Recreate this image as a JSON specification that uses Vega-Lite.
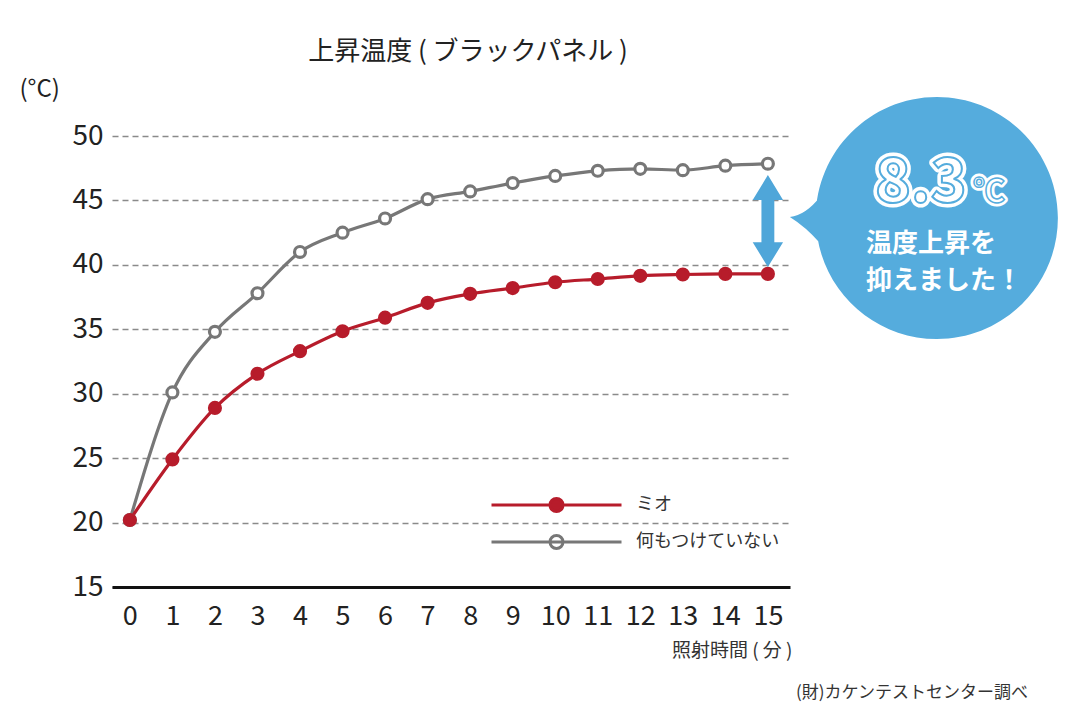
{
  "$schema": "https://vega.github.io/schema/vega-lite/v6.json",
  "width": 678,
  "height": 451,
  "autosize": {"type": "none"},
  "padding": {"left": 112, "top": 136, "right": 290, "bottom": 133},
  "background": "white",
  "config": {
    "font": "Noto Sans CJK JP",
    "view": {"stroke": null},
    "title": {"font": "Noto Sans CJK JP", "fontWeight": "normal", "color": "#222222"}
  },
  "title": {
    "text": "上昇温度 ( ブラックパネル )",
    "fontSize": 26,
    "anchor": "middle",
    "dx": 17,
    "offset": 12
  },
  "datasets": {
    "temps": [
      {"series": "何もつけていない", "time": 0, "temp": 20.2},
      {"series": "何もつけていない", "time": 1, "temp": 30.1},
      {"series": "何もつけていない", "time": 2, "temp": 34.8},
      {"series": "何もつけていない", "time": 3, "temp": 37.8},
      {"series": "何もつけていない", "time": 4, "temp": 41.0},
      {"series": "何もつけていない", "time": 5, "temp": 42.5},
      {"series": "何もつけていない", "time": 6, "temp": 43.6},
      {"series": "何もつけていない", "time": 7, "temp": 45.1},
      {"series": "何もつけていない", "time": 8, "temp": 45.7},
      {"series": "何もつけていない", "time": 9, "temp": 46.35},
      {"series": "何もつけていない", "time": 10, "temp": 46.9},
      {"series": "何もつけていない", "time": 11, "temp": 47.3},
      {"series": "何もつけていない", "time": 12, "temp": 47.45},
      {"series": "何もつけていない", "time": 13, "temp": 47.35},
      {"series": "何もつけていない", "time": 14, "temp": 47.7},
      {"series": "何もつけていない", "time": 15, "temp": 47.85},
      {"series": "ミオ", "time": 0, "temp": 20.2},
      {"series": "ミオ", "time": 1, "temp": 24.9},
      {"series": "ミオ", "time": 2, "temp": 28.9},
      {"series": "ミオ", "time": 3, "temp": 31.55},
      {"series": "ミオ", "time": 4, "temp": 33.3},
      {"series": "ミオ", "time": 5, "temp": 34.85},
      {"series": "ミオ", "time": 6, "temp": 35.9},
      {"series": "ミオ", "time": 7, "temp": 37.05},
      {"series": "ミオ", "time": 8, "temp": 37.75},
      {"series": "ミオ", "time": 9, "temp": 38.2},
      {"series": "ミオ", "time": 10, "temp": 38.65},
      {"series": "ミオ", "time": 11, "temp": 38.9},
      {"series": "ミオ", "time": 12, "temp": 39.15},
      {"series": "ミオ", "time": 13, "temp": 39.25},
      {"series": "ミオ", "time": 14, "temp": 39.3},
      {"series": "ミオ", "time": 15, "temp": 39.3}
    ],
    "note": [{"time": 15, "temp": 43.4}]
  },
  "encoding": {
    "x": {
      "field": "time",
      "type": "quantitative",
      "scale": {"domain": [-0.42, 15.52], "nice": false, "zero": false},
      "axis": {
        "values": [0,1,2,3,4,5,6,7,8,9,10,11,12,13,14,15],
        "grid": false,
        "ticks": false,
        "domainColor": "#111111",
        "domainWidth": 3,
        "labelFontSize": 27,
        "labelColor": "#222222",
        "labelPadding": 16,
        "labelFlush": false,
        "labelOverlap": false,
        "title": "照射時間 ( 分 )",
        "titleFontSize": 19,
        "titleFontWeight": "normal",
        "titleColor": "#333333",
        "titleAlign": "right",
        "titleAnchor": null,
        "titleX": 680,
        "titleY": 63,
        "titleBaseline": "middle"
      }
    },
    "y": {
      "field": "temp",
      "type": "quantitative",
      "scale": {"domain": [15, 50], "nice": false, "zero": false},
      "axis": {
        "values": [15,20,25,30,35,40,45,50],
        "domain": false,
        "ticks": false,
        "grid": true,
        "gridColor": "#8a8a8a",
        "gridDash": [6, 4],
        "gridWidth": 1.5,
        "labelFontSize": 28,
        "labelColor": "#222222",
        "labelPadding": 9,
        "title": "(°C)",
        "titleAngle": 0,
        "titleFontSize": 24,
        "titleFontWeight": "normal",
        "titleColor": "#222222",
        "titleAlign": "left",
        "titleAnchor": null,
        "titleX": -93,
        "titleY": -47,
        "titleBaseline": "middle"
      }
    }
  },
  "layer": [
    {
      "data": {"name": "temps"},
      "mark": {"type": "line", "interpolate": "monotone", "strokeWidth": 3.2},
      "encoding": {
        "color": {
          "field": "series",
          "type": "nominal",
          "scale": {"domain": ["ミオ", "何もつけていない"], "range": ["#b71c2b", "#777777"]},
          "legend": {
            "orient": "none",
            "legendX": 378,
            "legendY": 359,
            "title": null,
            "padding": 0,
            "symbolType": "M-1,0H1M0.1,0A0.1,0.1,0,1,1,-0.1,0A0.1,0.1,0,1,1,0.1,0Z",
            "symbolSize": 16900,
            "symbolStrokeWidth": 3,
            "clipHeight": 20,
            "rowPadding": 17,
            "labelFontSize": 18,
            "labelColor": "#333333",
            "labelOffset": 13,
            "encode": {
              "symbols": {
                "update": {
                  "fill": {"signal": "datum.value === 'ミオ' ? '#b71c2b' : '#ffffff'"},
                  "stroke": {"signal": "datum.value === 'ミオ' ? '#b71c2b' : '#777777'"},
                  "opacity": {"value": 1}
                }
              }
            }
          }
        }
      }
    },
    {
      "data": {"name": "temps"},
      "mark": {"type": "point", "shape": "circle", "size": 120, "strokeWidth": 3.2, "opacity": 1},
      "encoding": {
        "stroke": {
          "field": "series",
          "type": "nominal",
          "scale": {"domain": ["ミオ", "何もつけていない"], "range": ["#b71c2b", "#777777"]},
          "legend": null
        },
        "fill": {
          "field": "series",
          "type": "nominal",
          "scale": {"domain": ["ミオ", "何もつけていない"], "range": ["#b71c2b", "#ffffff"]},
          "legend": null
        }
      }
    },
    {
      "data": {"name": "note"},
      "mark": {
        "type": "point",
        "shape": "M0,-1L0.33,-0.46L0.14,-0.46L0.14,0.46L0.33,0.46L0,1L-0.33,0.46L-0.14,0.46L-0.14,-0.46L-0.33,-0.46Z",
        "size": 8464,
        "filled": true,
        "fill": "#4fa6d9",
        "strokeWidth": 0,
        "opacity": 1
      }
    },
    {
      "data": {"name": "note"},
      "mark": {
        "type": "point",
        "shape": "M2.9,-0.03A1.21,1.21,0,1,1,0.48,-0.03A1.21,1.21,0,1,1,2.9,-0.03ZM0.22,-0.04Q0.38,-0.06,0.52,-0.24L0.62,-0.24L0.62,0.22L0.52,0.22Q0.38,0.06,0.22,-0.04Z",
        "size": 40000,
        "filled": true,
        "fill": "#55acdd",
        "strokeWidth": 0,
        "opacity": 1
      }
    },
    {
      "data": {"name": "note"},
      "mark": {"type": "text", "text": "8.3", "align": "left", "baseline": "alphabetic", "dx": 107, "dy": -19, "fontSize": 61, "fontWeight": "bold", "fill": "#ffffff", "stroke": "#ffffff", "strokeWidth": 9, "strokeJoin": "round"}
    },
    {
      "data": {"name": "note"},
      "mark": {"type": "text", "text": "8.3", "align": "left", "baseline": "alphabetic", "dx": 107, "dy": -19, "fontSize": 61, "fontWeight": "bold", "fill": "#ffffff", "stroke": "#55acdd", "strokeWidth": 2}
    },
    {
      "data": {"name": "note"},
      "mark": {"type": "text", "text": "℃", "align": "left", "baseline": "alphabetic", "dx": 205, "dy": -19, "fontSize": 32, "fontWeight": "bold", "fill": "#ffffff", "stroke": "#ffffff", "strokeWidth": 7, "strokeJoin": "round"}
    },
    {
      "data": {"name": "note"},
      "mark": {"type": "text", "text": "℃", "align": "left", "baseline": "alphabetic", "dx": 205, "dy": -19, "fontSize": 32, "fontWeight": "bold", "fill": "#ffffff", "stroke": "#55acdd", "strokeWidth": 1.5}
    },
    {
      "data": {"name": "note"},
      "mark": {"type": "text", "text": "温度上昇を", "align": "left", "baseline": "alphabetic", "dx": 98, "dy": 31, "fontSize": 26, "fontWeight": "bold", "fill": "#ffffff"}
    },
    {
      "data": {"name": "note"},
      "mark": {"type": "text", "text": "抑えました！", "align": "left", "baseline": "alphabetic", "dx": 98, "dy": 68, "fontSize": 26, "fontWeight": "bold", "fill": "#ffffff"}
    },
    {
      "data": {"name": "note"},
      "mark": {"type": "text", "text": "(財)カケンテストセンター調べ", "align": "right", "baseline": "alphabetic", "dx": 260, "dy": 477, "fontSize": 17, "fontWeight": "normal", "fill": "#333333"}
    }
  ]
}
